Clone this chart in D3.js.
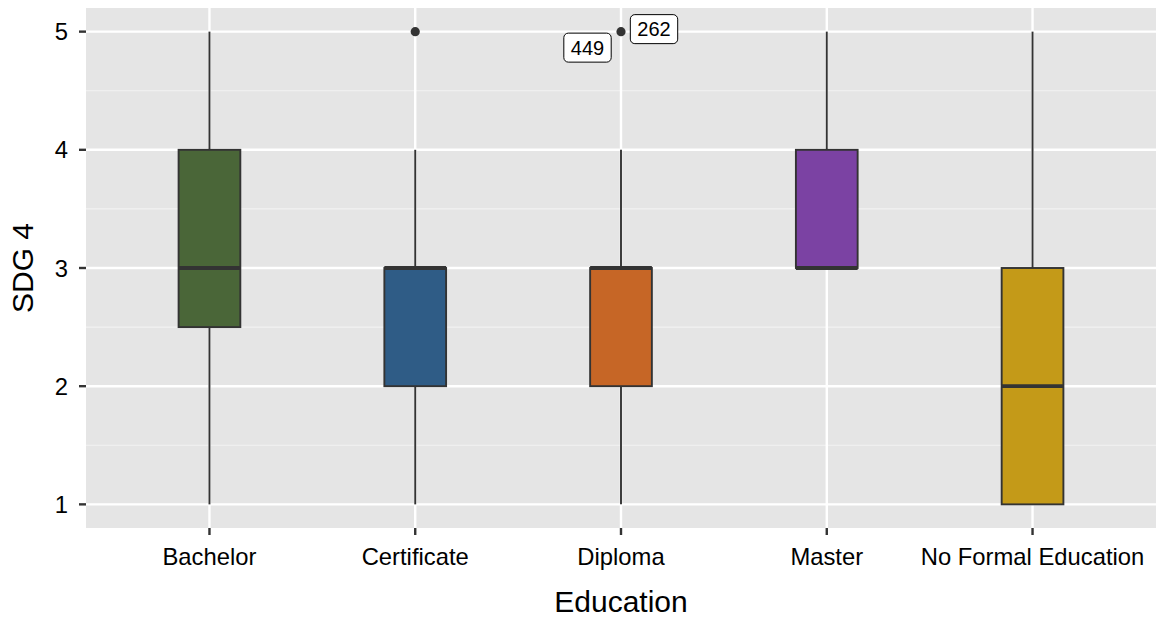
<!DOCTYPE html>
<html><head><meta charset="utf-8">
<script src="https://cdn.jsdelivr.net/npm/d3@7"></script>
<style>body{margin:0;background:#fff;} text{font-family:"Liberation Sans",Arial,sans-serif;}</style>
</head><body>
<svg id="c" width="1159" height="622"></svg>
<script>
const categories = ["Bachelor","Certificate","Diploma","Master","No Formal Education"];
const lowerWhisker = [1,1,1,3,1];
const q1 = [2.5,2,2,3,1];
const median = [3,3,3,3,2];
const q3 = [4,3,3,4,3];
const upperWhisker = [5,4,4,5,5];
const fills = ["#4a6638","#2f5c86","#c66626","#7b42a3","#c49a18"];
const outliers = [{cat:"Certificate", v:5}, {cat:"Diploma", v:5}];
const labels = [{cat:"Diploma", v:5, text:"262", dx:33, dy:-2.5}, {cat:"Diploma", v:5, text:"449", dx:-33.5, dy:16}];
const yTicks = [1,2,3,4,5];
const yMinor = [1.5,2.5,3.5,4.5];

const svg = d3.select("#c");
const L = 86, R = 1156, T = 8, B = 528;
const step = (R-L)/(categories.length - 1 + 1.2);
const x = d3.scalePoint().domain(categories).range([L+0.6*step, R-0.6*step]);
const y = d3.scaleLinear().domain([0.8,5.2]).range([B,T]);

svg.append("rect").attr("x",L).attr("y",T).attr("width",R-L).attr("height",B-T).attr("fill","#e5e5e5");
const g = svg.append("g");
yMinor.forEach(v=>g.append("line").attr("x1",L).attr("x2",R).attr("y1",y(v)).attr("y2",y(v)).attr("stroke","#f2f2f2").attr("stroke-width",1.2));
yTicks.forEach(v=>g.append("line").attr("x1",L).attr("x2",R).attr("y1",y(v)).attr("y2",y(v)).attr("stroke","#fff").attr("stroke-width",2.4));
categories.forEach(c=>g.append("line").attr("x1",x(c)).attr("x2",x(c)).attr("y1",T).attr("y2",B).attr("stroke","#fff").attr("stroke-width",2.4));

const bw = step*0.3;
categories.forEach((c,i)=>{
  const cx = x(c);
  g.append("line").attr("x1",cx).attr("x2",cx).attr("y1",y(upperWhisker[i])).attr("y2",y(q3[i])).attr("stroke","#333").attr("stroke-width",1.9);
  g.append("line").attr("x1",cx).attr("x2",cx).attr("y1",y(q1[i])).attr("y2",y(lowerWhisker[i])).attr("stroke","#333").attr("stroke-width",1.9);
  g.append("rect").attr("x",cx-bw/2).attr("y",y(q3[i])).attr("width",bw).attr("height",y(q1[i])-y(q3[i]))
    .attr("fill",fills[i]).attr("stroke","#333").attr("stroke-width",1.9);
  g.append("line").attr("x1",cx-bw/2).attr("x2",cx+bw/2).attr("y1",y(median[i])).attr("y2",y(median[i])).attr("stroke","#333").attr("stroke-width",3.8);
});
outliers.forEach(o=>g.append("circle").attr("cx",x(o.cat)).attr("cy",y(o.v)).attr("r",4.6).attr("fill","#333"));

const lg = svg.append("g");
labels.forEach(l=>{
  const cx = x(l.cat)+l.dx, cy = y(l.v)+l.dy;
  const gg = lg.append("g");
  const t = gg.append("text").attr("x",cx).attr("y",cy+7).attr("text-anchor","middle").attr("font-size",20).attr("fill","#000").text(l.text);
  const w = t.node().getComputedTextLength();
  gg.insert("rect","text").attr("x",cx-w/2-7).attr("y",cy-14.5).attr("width",w+14).attr("height",29).attr("rx",4.5).attr("fill","#fff").attr("stroke","#000").attr("stroke-width",1);
});

// axes
yTicks.forEach(v=>{
  svg.append("line").attr("x1",L-7).attr("x2",L).attr("y1",y(v)).attr("y2",y(v)).attr("stroke","#333").attr("stroke-width",2.4);
  svg.append("text").attr("x",L-18).attr("y",y(v)+8.5).attr("text-anchor","end").attr("font-size",23.8).attr("fill","#000").text(v);
});
categories.forEach(c=>{
  svg.append("line").attr("x1",x(c)).attr("x2",x(c)).attr("y1",B).attr("y2",B+7).attr("stroke","#333").attr("stroke-width",2.4);
  svg.append("text").attr("x",x(c)).attr("y",565).attr("text-anchor","middle").attr("font-size",23.8).attr("fill","#000").text(c);
});
svg.append("text").attr("x",(L+R)/2).attr("y",612).attr("text-anchor","middle").attr("font-size",30).attr("fill","#000").text("Education");
svg.append("text").attr("transform",`translate(33,${(T+B)/2}) rotate(-90)`).attr("text-anchor","middle").attr("font-size",30).attr("fill","#000").text("SDG 4");
</script>
</body></html>
